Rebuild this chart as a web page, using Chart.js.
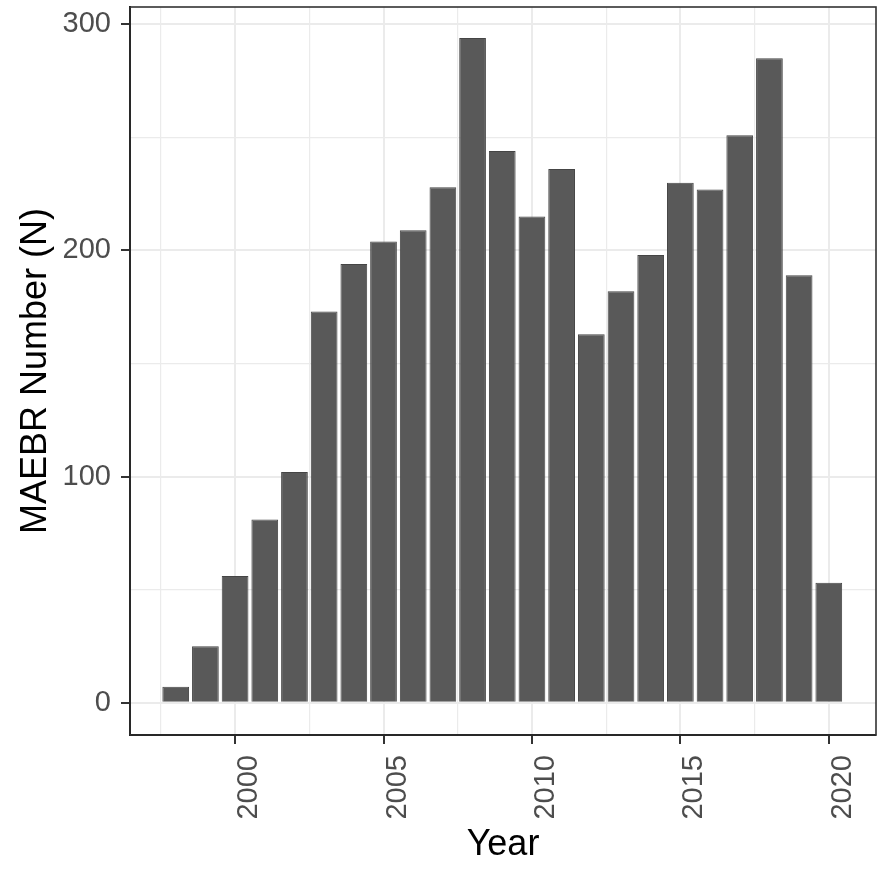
<!DOCTYPE html>
<html>
<head>
<meta charset="utf-8">
<script src="https://cdn.jsdelivr.net/npm/chart.js@4"></script>
<style>
  html, body { margin: 0; padding: 0; background: #fff; }
  #wrap { width: 886px; height: 874px; }
</style>
</head>
<body>
<div id="wrap"><canvas id="barChart"></canvas></div>
<script>
const years = [1998, 1999, 2000, 2001, 2002, 2003, 2004, 2005, 2006, 2007, 2008, 2009,
               2010, 2011, 2012, 2013, 2014, 2015, 2016, 2017, 2018, 2019, 2020];
const counts = [7, 25, 56, 81, 102, 173, 194, 204, 209, 228, 294, 244,
                215, 236, 163, 182, 198, 230, 227, 251, 285, 189, 53];
const yMajor = [0, 100, 200, 300];
const yMinor = [50, 150, 250];
const xMajor = [2000, 2005, 2010, 2015, 2020];
const xMinor = [1997.5, 2002.5, 2007.5, 2012.5, 2017.5];

const FONT = '"Liberation Sans", Arial, sans-serif';

// panel border like ggplot theme_bw
const panelBorder = {
    id: 'panelBorder',
    afterDraw(chart) {
        const a = chart.chartArea;
        const c = chart.ctx;
        c.save();
        c.strokeStyle = '#333333';
        c.lineWidth = 1.6;
        c.strokeRect(a.left, a.top, a.right - a.left, a.bottom - a.top);
        c.restore();
    }
};

function isMajor(major, ctx) {
    return !!ctx.tick && major.includes(ctx.tick.value);
}

function gridFor(major) {
    return {
        offset: false,
        color: '#EBEBEB',
        lineWidth: (ctx) => isMajor(major, ctx) ? 2 : 1.2,
        tickColor: (ctx) => isMajor(major, ctx) ? '#333333' : 'rgba(0,0,0,0)',
        tickWidth: 2,
        tickLength: 9,
        drawTicks: true
    };
}

// no extra label padding: the panel edges are set by layout padding
function noPad(scale) {
    scale.paddingTop = 0;
    scale.paddingBottom = 0;
    scale.paddingLeft = 0;
    scale.paddingRight = 0;
}

const ctx = document.getElementById('barChart').getContext('2d');

const barChart = new Chart(ctx, {
    type: 'bar',
    data: {
        datasets: [{
            label: 'MAEBR',
            data: years.map((y, i) => ({x: y, y: counts[i]})),
            backgroundColor: '#595959',
            borderColor: '#454545',
            borderWidth: 1,
            barPercentage: 0.9,
            categoryPercentage: 1.0
        }]
    },
    options: {
        responsive: true,
        maintainAspectRatio: false,
        animation: false,
        layout: { padding: { top: 7, right: 10, bottom: 0, left: 0 } },
        scales: {
            x: {
                type: 'linear',
                min: 1996.46,
                max: 2021.59,
                offset: false,
                afterBuildTicks: (scale) => {
                    scale.ticks = xMinor.concat(xMajor).sort((a, b) => a - b).map(v => ({value: v}));
                },
                afterFit: (scale) => { scale.height = 139; noPad(scale); },
                grid: gridFor(xMajor),
                border: { display: true, color: '#000000', width: 2 },
                ticks: {
                    autoSkip: false,
                    minRotation: 90,
                    maxRotation: 90,
                    padding: 11,
                    labelOffset: 14,
                    color: '#4D4D4D',
                    font: { family: FONT, size: 29, lineHeight: 1.0 },
                    callback: (v) => xMajor.includes(v) ? String(v) : ''
                },
                title: {
                    display: true,
                    text: 'Year',
                    color: '#000000',
                    font: { family: FONT, size: 36 },
                    padding: { top: 0, bottom: 7 }
                }
            },
            y: {
                type: 'linear',
                min: -14.3,
                max: 307.7,
                afterBuildTicks: (scale) => {
                    scale.ticks = yMajor.concat(yMinor).sort((a, b) => a - b).map(v => ({value: v}));
                },
                afterFit: (scale) => { scale.width = 130; noPad(scale); },
                grid: gridFor(yMajor),
                border: { display: true, color: '#000000', width: 2 },
                ticks: {
                    padding: 10,
                    color: '#4D4D4D',
                    font: { family: FONT, size: 29 },
                    callback: (v) => yMajor.includes(v) ? String(v) : ''
                },
                title: {
                    display: true,
                    text: 'MAEBR Number (N)',
                    color: '#000000',
                    font: { family: FONT, size: 36 },
                    padding: { top: 14, bottom: 0 }
                }
            }
        },
        plugins: {
            legend: { display: false },
            tooltip: { enabled: false }
        }
    },
    plugins: [panelBorder]
});
</script>
</body>
</html>
